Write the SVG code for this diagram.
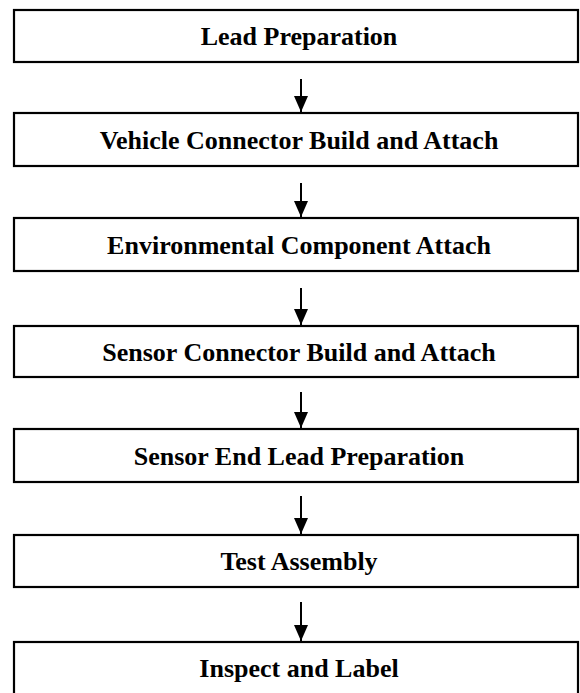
<svg xmlns="http://www.w3.org/2000/svg" width="580" height="693" viewBox="0 0 580 693">
<style>
.box{fill:#fff;stroke:#000;stroke-width:2.2}
.lbl{font-family:"Liberation Serif","Times New Roman",serif;font-weight:bold;font-size:26px;text-anchor:middle;fill:#000}
.conn{stroke:#000;stroke-width:2;fill:none}
</style>
<defs>
<marker id="ah" markerWidth="14" markerHeight="16" viewBox="0 0 14 16" refX="16" refY="7" orient="auto" markerUnits="userSpaceOnUse">
<path d="M0,0 L16,7 L0,14 Z" fill="#000"/>
</marker>
</defs>
<rect width="580" height="693" fill="#fff"/>
<g id="n1"><rect class="box" x="14" y="10" width="564" height="52"/><text class="lbl" x="299" y="45">Lead Preparation</text></g>
<g id="n2"><rect class="box" x="14" y="113" width="564" height="53"/><text class="lbl" x="299" y="149">Vehicle Connector Build and Attach</text></g>
<g id="n3"><rect class="box" x="14" y="218" width="564" height="53"/><text class="lbl" x="299" y="254">Environmental Component Attach</text></g>
<g id="n4"><rect class="box" x="14" y="326" width="564" height="51"/><text class="lbl" x="299" y="361">Sensor Connector Build and Attach</text></g>
<g id="n5"><rect class="box" x="14" y="429" width="564" height="53"/><text class="lbl" x="299" y="465">Sensor End Lead Preparation</text></g>
<g id="n6"><rect class="box" x="14" y="535" width="564" height="52"/><text class="lbl" x="299" y="570">Test Assembly</text></g>
<g id="n7"><rect class="box" x="14" y="642" width="564" height="60"/><text class="lbl" x="299" y="677">Inspect and Label</text></g>
<g id="connectors">
<line class="conn" x1="301" y1="79" x2="301" y2="112" marker-end="url(#ah)"/>
<line class="conn" x1="301" y1="183" x2="301" y2="217" marker-end="url(#ah)"/>
<line class="conn" x1="301" y1="288" x2="301" y2="325" marker-end="url(#ah)"/>
<line class="conn" x1="301" y1="392" x2="301" y2="428" marker-end="url(#ah)"/>
<line class="conn" x1="301" y1="496" x2="301" y2="534" marker-end="url(#ah)"/>
<line class="conn" x1="301" y1="602" x2="301" y2="641" marker-end="url(#ah)"/>
</g>
</svg>
